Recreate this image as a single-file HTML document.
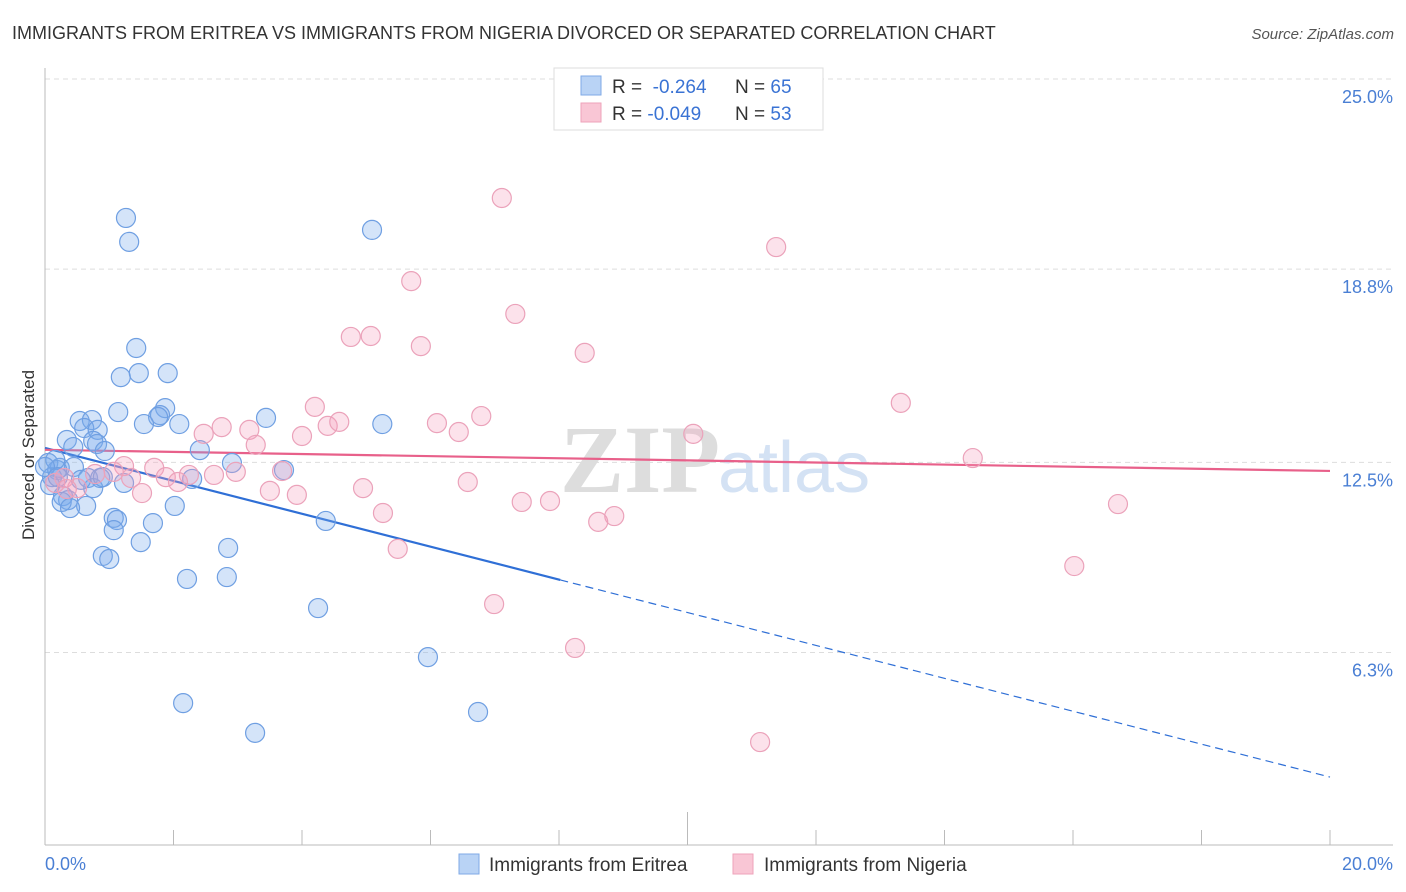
<!DOCTYPE html>
<html><head><meta charset="utf-8">
<style>
body{margin:0;background:#fff;font-family:"Liberation Sans",sans-serif;}
#wrap{position:relative;width:1406px;height:892px;overflow:hidden;}
</style></head>
<body>
<div id="wrap">
<svg id="chart" width="1406" height="892" xmlns="http://www.w3.org/2000/svg">
<text x="12" y="39" font-size="18" fill="#333">IMMIGRANTS FROM ERITREA VS IMMIGRANTS FROM NIGERIA DIVORCED OR SEPARATED CORRELATION CHART</text>
<text x="1394" y="39" font-size="15" fill="#555" font-style="italic" text-anchor="end">Source: ZipAtlas.com</text>
<text x="720" y="492" font-size="96" font-family="Liberation Serif,serif" fill="#ddd" text-anchor="end" font-weight="bold">ZIP</text>
<text x="718" y="492" font-size="72" fill="#d4e2f4">atlas</text>
<g id="grid"></g>
<line x1="45" y1="68" x2="45" y2="845" stroke="#bbb"/>
<line x1="45" y1="845" x2="1393" y2="845" stroke="#bbb"/>
<g id="xticks"></g>
<text x="45" y="870" font-size="18" fill="#4a7fd4">0.0%</text>
<text x="1393" y="870" font-size="18" fill="#4a7fd4" text-anchor="end">20.0%</text>
<text transform="translate(34,455) rotate(-90)" font-size="17" fill="#333" text-anchor="middle">Divorced or Separated</text>
<g id="trend"></g>
<g id="points"></g>
<g>
<rect x="554" y="68" width="269" height="62" fill="#fff" stroke="#ddd"/>
<rect x="581" y="76" width="20" height="19" fill="#b9d3f5" stroke="#7fa9e6"/>
<rect x="581" y="103" width="20" height="19" fill="#f9c6d5" stroke="#eea3ba"/>
<text x="612" y="93" font-size="19" fill="#333">R = <tspan fill="#3a73d4">&#160;-0.264</tspan><tspan x="735">N = </tspan><tspan fill="#3a73d4">65</tspan></text>
<text x="612" y="120" font-size="19" fill="#333">R = <tspan fill="#3a73d4">-0.049</tspan><tspan x="735">N = </tspan><tspan fill="#3a73d4">53</tspan></text>
</g>
<g>
<rect x="459" y="854" width="20" height="20" fill="#b9d3f5" stroke="#7fa9e6"/>
<text x="489" y="871" font-size="19" fill="#333">Immigrants from Eritrea</text>
<rect x="733" y="854" width="20" height="20" fill="#f9c6d5" stroke="#eea3ba"/>
<text x="764" y="871" font-size="19" fill="#333">Immigrants from Nigeria</text>
</g>
</svg>
</div>
<script>
const yTicks=[25.0,18.8,12.5,6.3];
const yTickLabels=["25.0%","18.8%","12.5%","6.3%"];
const xTickVals=[0,2,4,6,8,10,12,14,16,18,20];
const eritreaX=[1.26,1.31,5.09,1.42,1.18,1.46,1.91,1.14,1.87,1.79,1.76,0.54,0.73,0.61,0.82,0.34,1.54,2.09,3.44,5.25,0.75,0.81,0.93,0.44,2.41,0.05,0.23,0.45,2.91,3.72,0.11,0.67,0.86,2.29,1.23,0.75,0.28,0.36,0.26,0.64,0.39,2.02,1.07,1.12,1.68,4.37,1.07,1.49,2.85,0.90,1.00,2.21,2.83,4.25,5.96,2.15,6.74,3.27,0.19,0.08,0.16,0.0,0.56,0.90,0.20];
const eritreaY=[20.47,19.69,20.08,16.23,15.28,15.41,15.41,14.14,14.27,14.04,13.98,13.85,13.88,13.62,13.56,13.23,13.75,13.75,13.95,13.75,13.20,13.10,12.87,13.00,12.90,12.48,12.32,12.35,12.48,12.25,12.02,11.99,11.99,11.96,11.83,11.66,11.40,11.27,11.21,11.08,11.01,11.08,10.69,10.62,10.52,10.59,10.29,9.90,9.71,9.45,9.35,8.70,8.76,7.75,6.15,4.65,4.36,3.68,12.25,11.76,12.58,12.35,11.93,12.02,12.02];
const nigeriaX=[7.11,11.38,5.70,7.32,4.76,5.07,5.85,8.40,13.32,4.20,6.79,2.75,3.18,6.10,4.40,4.58,2.47,4.00,6.44,10.09,3.28,14.44,1.23,1.70,2.24,2.63,2.97,3.69,1.07,0.78,1.34,1.88,2.07,6.58,4.95,0.50,3.50,1.51,3.92,0.16,0.30,0.34,7.42,7.86,16.70,5.26,8.86,8.61,5.49,16.02,6.99,8.25,11.13];
const nigeriaY=[21.12,19.52,18.41,17.34,16.59,16.62,16.29,16.07,14.44,14.31,14.01,13.65,13.56,13.78,13.69,13.82,13.43,13.36,13.49,13.43,13.07,12.64,12.38,12.32,12.09,12.09,12.19,12.22,12.19,12.12,11.99,12.02,11.86,11.86,11.66,11.66,11.57,11.50,11.44,11.83,11.99,11.63,11.21,11.24,11.14,10.85,10.75,10.56,9.68,9.12,7.88,6.45,3.38];
const eritreaTrend=[12.97,-0.5365,8.02];
const nigeriaTrend=[12.91,-0.0345];
const NS="http://www.w3.org/2000/svg";
function sx(v){return 45+v*64.25;}
function sy(v){return 79+(25-v)*30.67;}
function mk(t,a,p){const e=document.createElementNS(NS,t);for(const k in a)e.setAttribute(k,a[k]);p.appendChild(e);return e;}
const grid=document.getElementById('grid');
yTicks.forEach((v,i)=>{
  const l=mk('line',{x1:45,x2:1393,y1:sy(v),y2:sy(v),stroke:'#ddd','stroke-dasharray':'5,4'},grid);
  
  
  const t=mk('text',{x:1393,y:sy(v)+24,'font-size':18,fill:'#4a7fd4','text-anchor':'end'},grid);
  t.textContent=yTickLabels[i];
  
  
});
const xt=document.getElementById('xticks');
xTickVals.forEach(v=>{
  if(v===0)return;
  const l=mk('line',{x1:sx(v),x2:sx(v),y1:v===10?812:830,y2:845,stroke:'#bbb'},xt);
  
  
});
const tr=document.getElementById('trend');
const ex=eritreaTrend[2];
let l1=mk('line',{x1:sx(0),y1:sy(eritreaTrend[0]),x2:sx(ex),y2:sy(eritreaTrend[0]+eritreaTrend[1]*ex),stroke:'#2f6fd6','stroke-width':2.2},tr);


let l2=mk('line',{x1:sx(ex),y1:sy(eritreaTrend[0]+eritreaTrend[1]*ex),x2:sx(20),y2:sy(eritreaTrend[0]+eritreaTrend[1]*20),stroke:'#2f6fd6','stroke-width':1.2,'stroke-dasharray':'8,5'},tr);


let l3=mk('line',{x1:sx(0),y1:sy(nigeriaTrend[0]),x2:sx(20),y2:sy(nigeriaTrend[0]+nigeriaTrend[1]*20),stroke:'#e8608a','stroke-width':2.2},tr);


const pg=document.getElementById('points');
eritreaX.forEach((x,i)=>{
  const c=mk('circle',{cx:sx(x),cy:sy(eritreaY[i]),r:9.5,fill:'rgba(120,170,235,0.32)',stroke:'#6f9fe2','stroke-width':1.2},pg);
  
  
});
nigeriaX.forEach((x,i)=>{
  const c=mk('circle',{cx:sx(x),cy:sy(nigeriaY[i]),r:9.5,fill:'rgba(245,160,190,0.3)',stroke:'#eba2ba','stroke-width':1.2},pg);
  
  
});
</script>
</body></html>
